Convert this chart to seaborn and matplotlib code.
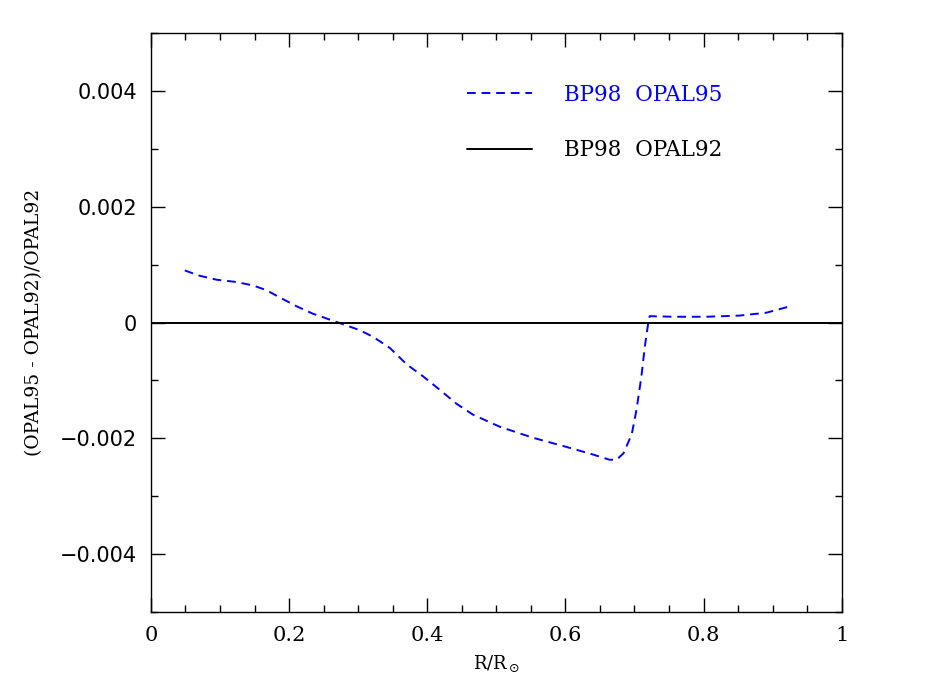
import matplotlib
matplotlib.use("Agg")
import matplotlib.pyplot as plt
import pandas as pd
import seaborn as sns
from matplotlib.ticker import MultipleLocator

# Data
r_opal95 = [0.049, 0.07, 0.095, 0.124, 0.148, 0.167, 0.187, 0.211, 0.234, 0.271,
            0.302, 0.322, 0.346, 0.370, 0.394, 0.42, 0.442, 0.466, 0.505, 0.553,
            0.602, 0.640, 0.664, 0.674, 0.684, 0.696, 0.703, 0.710, 0.715, 0.720,
            0.722, 0.756, 0.804, 0.852, 0.891, 0.925]
diff_opal95 = [0.90, 0.81, 0.74, 0.70, 0.64, 0.56, 0.43, 0.28, 0.155, 0.0,
               -0.13, -0.25, -0.44, -0.72, -0.93, -1.18, -1.40, -1.59, -1.80, -1.99,
               -2.15, -2.28, -2.37, -2.37, -2.26, -1.93, -1.50, -0.93, -0.41, 0.0,
               0.11, 0.10, 0.10, 0.12, 0.17, 0.28]
diff_opal95 = [v * 1e-3 for v in diff_opal95]

r_opal92 = [0.0, 1.0]
diff_opal92 = [0.0, 0.0]

labels = ["BP98  OPAL95", "BP98  OPAL92"]

df95 = pd.DataFrame({"r": r_opal95, "d": diff_opal95})
df92 = pd.DataFrame({"r": r_opal92, "d": diff_opal92})

sns.set_style("ticks")
plt.rcParams["font.family"] = ["DejaVu Sans"]
plt.rcParams["text.color"] = "black"
plt.rcParams["xtick.color"] = "black"
plt.rcParams["ytick.color"] = "black"
plt.rcParams["axes.labelcolor"] = "black"

fig = plt.figure(figsize=(9.26, 6.92), dpi=100)
ax = fig.add_axes([0.163, 0.1156, 0.746, 0.8366])

sns.lineplot(data=df95, x="r", y="d", ax=ax, color="blue", lw=1.4,
             linestyle=(0, (4.5, 3)), label=labels[0], sort=False)
sns.lineplot(data=df92, x="r", y="d", ax=ax, color="black", lw=1.4,
             label=labels[1])

ax.set_xlim(0, 1)
ax.set_ylim(-0.005, 0.005)

ax.xaxis.set_major_locator(MultipleLocator(0.2))
ax.xaxis.set_minor_locator(MultipleLocator(0.05))
ax.yaxis.set_major_locator(MultipleLocator(0.002))
ax.yaxis.set_minor_locator(MultipleLocator(0.001))
ax.tick_params(which="both", direction="in", top=True, right=True, width=1.0,
               colors="black")
ax.tick_params(which="major", length=10, labelsize=15, pad=10)
ax.tick_params(which="minor", length=5)

ax.set_xticks([0, 0.2, 0.4, 0.6, 0.8, 1.0])
ax.set_xticklabels(["0", "0.2", "0.4", "0.6", "0.8", "1"], family="DejaVu Serif")
yt = [-0.004, -0.002, 0, 0.002, 0.004]
ax.set_yticks(yt)
ax.set_yticklabels(["\u22120.004", "\u22120.002", "0", "0.002", "0.004"])

for s in ax.spines.values():
    s.set_linewidth(1.0)
    s.set_color("black")

ax.set_xlabel(r"R/R$_\odot$", family="DejaVu Serif", fontsize=13, labelpad=6)
ax.set_ylabel("(OPAL95 - OPAL92)/OPAL92", family="DejaVu Serif", fontsize=13.5,
              labelpad=12)

leg = ax.legend(loc="upper left", bbox_to_anchor=(0.43, 0.946), frameon=False,
                handlelength=3.0, handletextpad=1.5, labelspacing=1.55,
                prop={"family": "DejaVu Serif", "size": 15.5},
                labelcolor=["blue", "black"])

fig.savefig("out.png", dpi=100)
